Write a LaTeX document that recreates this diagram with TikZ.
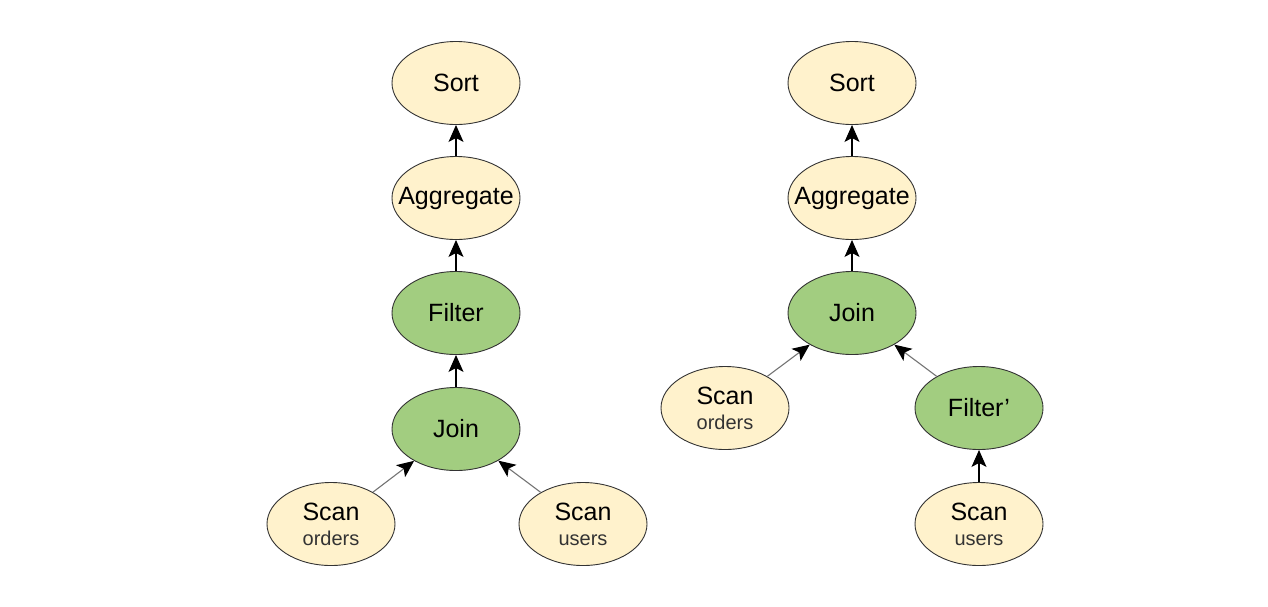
\documentclass[tikz,border=0pt]{standalone}
\usepackage{fontspec}
\setmainfont{Liberation Sans}
\usetikzlibrary{arrows.meta,shapes.geometric}
\definecolor{cream}{HTML}{FFF2CC}
\definecolor{leaf}{HTML}{A2CD80}
\definecolor{edge}{HTML}{333333}
\definecolor{subtext}{HTML}{333333}
\tikzset{
  op/.style={ellipse, draw=edge, line width=0.9pt, minimum width=128pt, minimum height=83pt, inner sep=0pt, align=center, font=\fontsize{25}{27}\selectfont},
  base/.style={op, fill=cream},
  filt/.style={op, fill=leaf},
  up/.style={-{Stealth[length=17pt,width=15pt,inset=4pt,black]}, line width=1.1pt, black},
  diag/.style={-{Stealth[length=17pt,width=15pt,inset=4pt,black]}, line width=1.1pt, draw=black!55},
}
\newcommand{\sub}[1]{\\[-2pt]{\fontsize{20}{22}\selectfont\color{subtext} #1}}
\begin{document}
\begin{tikzpicture}[x=1pt,y=-1pt]
\useasboundingbox (0,0) rectangle (1268,606);
% left plan
\node[base] (s1) at (456,83) {Sort};
\node[base] (a1) at (456,198) {\makebox[0pt]{Aggregate}};
\node[filt] (f1) at (456,313) {Filter};
\node[filt] (j1) at (456,429) {Join};
\node[base] (o1) at (331,524) {Scan\sub{orders}};
\node[base] (u1) at (583,524) {Scan\sub{users}};
\draw[up] (a1) -- (s1);
\draw[up] (f1) -- (a1);
\draw[up] (j1) -- (f1);
\draw[diag] (o1) -- (j1);
\draw[diag] (u1) -- (j1);
% right plan
\node[base] (s2) at (852,83) {Sort};
\node[base] (a2) at (852,198) {\makebox[0pt]{Aggregate}};
\node[filt] (j2) at (852,313) {Join};
\node[base] (o2) at (725,408) {Scan\sub{orders}};
\node[filt] (f2) at (979,408) {Filter\textquoteright};
\node[base] (u2) at (979,524) {Scan\sub{users}};
\draw[up] (a2) -- (s2);
\draw[up] (j2) -- (a2);
\draw[diag] (o2) -- (j2);
\draw[diag] (f2) -- (j2);
\draw[up] (u2) -- (f2);
\end{tikzpicture}
\end{document}
